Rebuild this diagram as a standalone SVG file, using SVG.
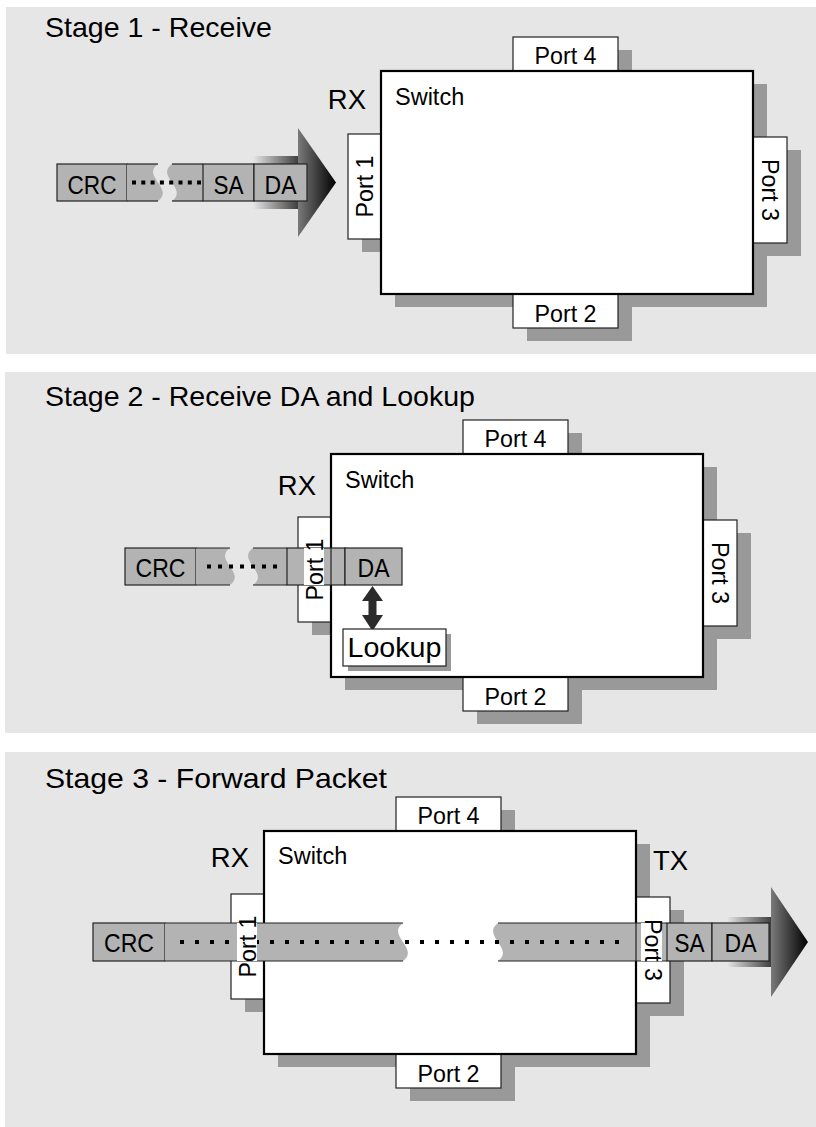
<svg xmlns="http://www.w3.org/2000/svg" width="816" height="1127" viewBox="0 0 816 1127">
<style>
.panel{fill:#e6e6e6}
.shadow{fill:#999999}
.sw{fill:#ffffff;stroke:#000000;stroke-width:2.2}
.port{fill:#ffffff;stroke:#222222;stroke-width:1.2}
.cell{fill:#b3b3b3;stroke:#222222;stroke-width:1.2}
.piece{fill:#b3b3b3}
.edge{stroke:#222222;stroke-width:1.2}
.dots{stroke:#000000;stroke-width:4}
text{font-family:"Liberation Sans",Arial,sans-serif;fill:#000000}
.title{font-size:28px}
.lbl{font-size:23.5px}
.plbl{font-size:24px;text-anchor:middle}
.pk{font-size:25px;text-anchor:middle}
.rx{font-size:27.5px}
</style>
<defs>
<linearGradient id="shaftGrad" x1="0" y1="0" x2="1" y2="0">
<stop offset="0" stop-color="#e6e6e6"/>
<stop offset="1" stop-color="#3c3c3c"/>
</linearGradient>
<linearGradient id="headGrad" x1="0" y1="0" x2="1" y2="0">
<stop offset="0" stop-color="#7a7a7a"/>
<stop offset="1" stop-color="#000000"/>
</linearGradient>
</defs>

<!-- Panels -->
<g id="panels">
<rect class="panel" x="6" y="7" width="810" height="347"/>
<rect class="panel" x="5" y="372" width="811" height="361"/>
<rect class="panel" x="5" y="752" width="811" height="375"/>
</g>
<g id="titles">
<text class="title" x="45" y="37" textLength="227" lengthAdjust="spacingAndGlyphs">Stage 1 - Receive</text>
<text class="title" x="45" y="406" textLength="430" lengthAdjust="spacingAndGlyphs">Stage 2 - Receive DA and Lookup</text>
<text class="title" x="45" y="788" textLength="342" lengthAdjust="spacingAndGlyphs">Stage 3 - Forward Packet</text>
</g>

<!-- Stage 1 switch -->
<g id="s1-switch">
<rect class="shadow" x="395" y="84" width="372" height="223"/>
<rect class="shadow" x="527" y="50" width="105" height="34"/>
<rect class="shadow" x="527" y="307" width="105" height="34"/>
<rect class="shadow" x="362" y="147" width="33" height="105"/>
<rect class="shadow" x="767" y="150" width="34" height="106"/>
<rect class="port" x="513" y="37" width="105" height="34"/>
<rect class="port" x="513" y="294" width="105" height="34"/>
<rect class="port" x="348" y="134" width="33" height="105"/>
<rect class="port" x="753" y="137" width="34" height="106"/>
<rect class="sw" x="381" y="71" width="372" height="223"/>
<text class="plbl" x="565.5" y="64" textLength="62" lengthAdjust="spacingAndGlyphs">Port 4</text>
<text class="plbl" x="565.5" y="321.5" textLength="62" lengthAdjust="spacingAndGlyphs">Port 2</text>
<text class="plbl" transform="translate(364.5,186.5) rotate(-90)" y="8.5" textLength="62" lengthAdjust="spacingAndGlyphs">Port 1</text>
<text class="plbl" transform="translate(770,190) rotate(90)" y="8.5" textLength="62" lengthAdjust="spacingAndGlyphs">Port 3</text>
<text class="lbl" x="395" y="105">Switch</text>
<text class="rx" x="366" y="109" text-anchor="end">RX</text>
</g>

<!-- Stage 2 switch -->
<g id="s2-switch">
<rect class="shadow" x="345" y="467" width="372" height="223"/>
<rect class="shadow" x="477" y="433" width="105" height="34"/>
<rect class="shadow" x="477" y="690" width="105" height="34"/>
<rect class="shadow" x="312" y="530" width="33" height="105"/>
<rect class="shadow" x="717" y="533" width="34" height="106"/>
<rect class="port" x="463" y="420" width="105" height="34"/>
<rect class="port" x="463" y="677" width="105" height="34"/>
<rect class="port" x="298" y="517" width="33" height="105"/>
<rect class="port" x="703" y="520" width="34" height="106"/>
<rect class="sw" x="331" y="454" width="372" height="223"/>
<text class="plbl" x="515.5" y="447" textLength="62" lengthAdjust="spacingAndGlyphs">Port 4</text>
<text class="plbl" x="515.5" y="704.5" textLength="62" lengthAdjust="spacingAndGlyphs">Port 2</text>
<text class="plbl" transform="translate(720,573) rotate(90)" y="8.5" textLength="62" lengthAdjust="spacingAndGlyphs">Port 3</text>
<text class="lbl" x="345" y="488">Switch</text>
<text class="rx" x="316" y="495" text-anchor="end">RX</text>
</g>

<!-- Stage 3 switch -->
<g id="s3-switch">
<rect class="shadow" x="278" y="844" width="372" height="223"/>
<rect class="shadow" x="410" y="810" width="105" height="34"/>
<rect class="shadow" x="410" y="1067" width="105" height="34"/>
<rect class="shadow" x="245" y="907" width="33" height="105"/>
<rect class="shadow" x="650" y="910" width="34" height="106"/>
<rect class="port" x="396" y="797" width="105" height="34"/>
<rect class="port" x="396" y="1054" width="105" height="34"/>
<rect class="port" x="231" y="894" width="33" height="105"/>
<rect class="port" x="636" y="897" width="34" height="106"/>
<rect class="sw" x="264" y="831" width="372" height="223"/>
<text class="plbl" x="448.5" y="824" textLength="62" lengthAdjust="spacingAndGlyphs">Port 4</text>
<text class="plbl" x="448.5" y="1081.5" textLength="62" lengthAdjust="spacingAndGlyphs">Port 2</text>
<text class="lbl" x="278" y="864">Switch</text>
<text class="rx" x="249" y="867" text-anchor="end">RX</text>
<text class="rx" x="653" y="870">TX</text>
</g>

<!-- Connectors -->
<g id="connectors">
<rect x="253" y="156" width="46" height="53" fill="url(#shaftGrad)"/>
<polygon points="298,128 336,182.5 298,237" fill="url(#headGrad)"/>
<rect x="727" y="917" width="45" height="50" fill="url(#shaftGrad)"/>
<polygon points="771,887 808,942 771,997" fill="url(#headGrad)"/>
<polygon points="372.5,586 383,601 376.5,601 376.5,615 383,615 372.5,631 362,615 368.5,615 368.5,601 362,601" fill="#2b2b2b"/>
</g>

<!-- Stage 1 packet -->
<g id="s1-packet">
<rect class="cell" x="57" y="164" width="70" height="37"/>
<path class="piece" d="M127,164 L158,164 C141,176.3 175,188.7 158,201 L127,201 Z"/>
<path class="piece" d="M172,164 L203,164 L203,201 L172,201 C189,188.7 155,176.3 172,164 Z"/>
<line class="edge" x1="127" y1="164" x2="158" y2="164"/>
<line class="edge" x1="127" y1="201" x2="158" y2="201"/>
<line class="edge" x1="172" y1="164" x2="203" y2="164"/>
<line class="edge" x1="172" y1="201" x2="203" y2="201"/>
<rect class="cell" x="203" y="164" width="51" height="37"/>
<rect class="cell" x="254" y="164" width="53" height="37"/>
<line class="dots" x1="132" y1="182.5" x2="201" y2="182.5" stroke-dasharray="4 5.3"/>
<text class="pk" x="92" y="194" textLength="49" lengthAdjust="spacingAndGlyphs">CRC</text>
<text class="pk" x="228.5" y="194" textLength="30" lengthAdjust="spacingAndGlyphs">SA</text>
<text class="pk" x="280.5" y="194" textLength="32" lengthAdjust="spacingAndGlyphs">DA</text>
</g>

<!-- Stage 2 packet -->
<g id="s2-packet">
<rect class="cell" x="125" y="548" width="71" height="37"/>
<path class="piece" d="M196,548 L230,548 C213,560.3 247,572.7 230,585 L196,585 Z"/>
<path class="piece" d="M253,548 L287,548 L287,585 L253,585 C270,572.7 236,560.3 253,548 Z"/>
<line class="edge" x1="196" y1="548" x2="230" y2="548"/>
<line class="edge" x1="196" y1="585" x2="230" y2="585"/>
<line class="edge" x1="253" y1="548" x2="287" y2="548"/>
<line class="edge" x1="253" y1="585" x2="287" y2="585"/>
<rect class="cell" x="287" y="548" width="58" height="37"/>
<rect class="cell" x="345" y="548" width="57" height="37"/>
<line class="edge" x1="331" y1="548" x2="331" y2="585"/>
<line class="dots" x1="207" y1="566.5" x2="277" y2="566.5" stroke-dasharray="4 7"/>
<text class="pk" x="160.5" y="577" textLength="50" lengthAdjust="spacingAndGlyphs">CRC</text>
<text class="pk" x="373.5" y="577" textLength="32" lengthAdjust="spacingAndGlyphs">DA</text>
</g>
<g id="s2-port1-label">
<rect x="304" y="548" width="20" height="37" fill="#ffffff"/>
<text class="plbl" transform="translate(314.5,569.5) rotate(-90)" y="8.5" textLength="62" lengthAdjust="spacingAndGlyphs">Port 1</text>
</g>
<g id="s2-lookup">
<rect class="shadow" x="348" y="634" width="103" height="37"/>
<rect class="port" x="343" y="629" width="103" height="37"/>
<text x="394.5" y="657" font-size="27" text-anchor="middle" textLength="94" lengthAdjust="spacingAndGlyphs">Lookup</text>
</g>

<!-- Stage 3 packet -->
<g id="s3-packet">
<rect class="cell" x="93" y="923" width="72" height="38"/>
<path class="piece" d="M165,923 L403,923 C386,935.7 420,948.3 403,961 L165,961 Z"/>
<path class="piece" d="M498,923 L667,923 L667,961 L498,961 C515,948.3 481,935.7 498,923 Z"/>
<line class="edge" x1="165" y1="923" x2="403" y2="923"/>
<line class="edge" x1="165" y1="961" x2="403" y2="961"/>
<line class="edge" x1="498" y1="923" x2="667" y2="923"/>
<line class="edge" x1="498" y1="961" x2="667" y2="961"/>
<line class="edge" x1="636" y1="923" x2="636" y2="961"/>
<rect class="cell" x="667" y="923" width="45" height="38"/>
<rect class="cell" x="712" y="923" width="57" height="38"/>
<line class="dots" x1="180" y1="942" x2="619" y2="942" stroke-dasharray="4 11"/>
<text class="pk" x="129" y="952" textLength="50" lengthAdjust="spacingAndGlyphs">CRC</text>
<text class="pk" x="689.5" y="952" textLength="30" lengthAdjust="spacingAndGlyphs">SA</text>
<text class="pk" x="740.5" y="952" textLength="32" lengthAdjust="spacingAndGlyphs">DA</text>
</g>
<g id="s3-port1-label">
<rect x="237" y="923" width="20" height="38" fill="#ffffff"/>
<text class="plbl" transform="translate(247.5,946.5) rotate(-90)" y="8.5" textLength="62" lengthAdjust="spacingAndGlyphs">Port 1</text>
</g>
<g id="s3-port3-label">
<rect x="641" y="923" width="21" height="38" fill="#ffffff"/>
<text class="plbl" transform="translate(653,950) rotate(90)" y="8.5" textLength="62" lengthAdjust="spacingAndGlyphs">Port 3</text>
</g>
</svg>
